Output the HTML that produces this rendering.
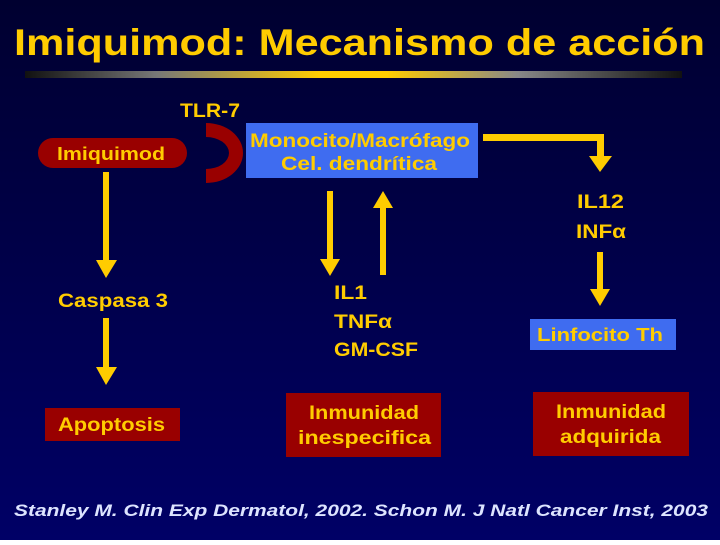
<!DOCTYPE html>
<html><head><meta charset="utf-8"><style>
html,body{margin:0;padding:0;}
body{width:720px;height:540px;overflow:hidden;}
text{font-family:"Liberation Sans",sans-serif;font-weight:bold;}
</style></head><body>
<svg width="720" height="540" viewBox="0 0 720 540" xmlns="http://www.w3.org/2000/svg">
<defs>
<linearGradient id="bg" x1="0" y1="0" x2="0" y2="1">
<stop offset="0" stop-color="#000030"/><stop offset="0.5" stop-color="#00004a"/><stop offset="1" stop-color="#000066"/>
</linearGradient>
<linearGradient id="bar" x1="0" y1="0" x2="1" y2="0">
<stop offset="0" stop-color="#111"/><stop offset="0.2" stop-color="#777"/><stop offset="0.45" stop-color="#ffcc00"/><stop offset="0.55" stop-color="#ffcc00"/><stop offset="0.75" stop-color="#888"/><stop offset="1" stop-color="#111"/>
</linearGradient>
</defs>
<rect width="720" height="540" fill="url(#bg)"/>
<text x="14" y="55" font-size="37" fill="#ffcc00" textLength="691" lengthAdjust="spacingAndGlyphs">Imiquimod: Mecanismo de acción</text>
<rect x="25" y="71" width="657" height="7" fill="url(#bar)"/>

<g fill="#ffcc00">
<rect x="483" y="134" width="121" height="7"/>
<rect x="597" y="134" width="7" height="24"/>
<polygon points="589,156 612,156 600,172"/>
<rect x="597" y="252" width="6" height="38"/>
<polygon points="590,289 610,289 600,306"/>
<rect x="103" y="172" width="6" height="90"/>
<polygon points="96,260 117,260 106,278"/>
<rect x="103" y="318" width="6" height="50"/>
<polygon points="96,367 117,367 106,385"/>
<rect x="327" y="191" width="6" height="70"/>
<polygon points="320,259 340,259 330,276"/>
<rect x="380" y="207" width="6" height="68"/>
<polygon points="373,208 393,208 383,191"/>
</g>

<rect x="38" y="138" width="149" height="30" rx="15" fill="#990000"/>
<text x="57" y="160" font-size="18" fill="#ffcc00" textLength="108" lengthAdjust="spacingAndGlyphs">Imiquimod</text>
<text x="180" y="117" font-size="19" fill="#ffcc00" textLength="60" lengthAdjust="spacingAndGlyphs">TLR-7</text>
<path d="M206,123 A37,30 0 0 1 206,183 L206,169 A23,16 0 0 0 206,137 Z" fill="#990000"/>
<rect x="246" y="123" width="232" height="55" fill="#3f6cf0"/>
<text x="250" y="147" font-size="19" fill="#ffcc00" textLength="220" lengthAdjust="spacingAndGlyphs">Monocito/Macrófago</text>
<text x="281" y="170" font-size="19" fill="#ffcc00" textLength="156" lengthAdjust="spacingAndGlyphs">Cel. dendrítica</text>

<text x="577" y="208" font-size="19" fill="#ffcc00" textLength="47" lengthAdjust="spacingAndGlyphs">IL12</text>
<text x="576" y="238" font-size="19" fill="#ffcc00" textLength="50" lengthAdjust="spacingAndGlyphs">INFα</text>

<text x="58" y="307" font-size="19" fill="#ffcc00" textLength="110" lengthAdjust="spacingAndGlyphs">Caspasa 3</text>

<text x="334" y="299" font-size="19" fill="#ffcc00" textLength="33" lengthAdjust="spacingAndGlyphs">IL1</text>
<text x="334" y="328" font-size="19" fill="#ffcc00" textLength="58" lengthAdjust="spacingAndGlyphs">TNFα</text>
<text x="334" y="356" font-size="19" fill="#ffcc00" textLength="84" lengthAdjust="spacingAndGlyphs">GM-CSF</text>

<rect x="530" y="319" width="146" height="31" fill="#3f6cf0"/>
<text x="537" y="341" font-size="18" fill="#ffcc00" textLength="126" lengthAdjust="spacingAndGlyphs">Linfocito Th</text>

<rect x="45" y="408" width="135" height="33" fill="#990000"/>
<text x="58" y="431" font-size="19" fill="#ffcc00" textLength="107" lengthAdjust="spacingAndGlyphs">Apoptosis</text>

<rect x="286" y="393" width="155" height="64" fill="#990000"/>
<text x="309" y="419" font-size="19" fill="#ffcc00" textLength="110" lengthAdjust="spacingAndGlyphs">Inmunidad</text>
<text x="298" y="444" font-size="19" fill="#ffcc00" textLength="133" lengthAdjust="spacingAndGlyphs">inespecifica</text>

<rect x="533" y="392" width="156" height="64" fill="#990000"/>
<text x="556" y="418" font-size="19" fill="#ffcc00" textLength="110" lengthAdjust="spacingAndGlyphs">Inmunidad</text>
<text x="560" y="443" font-size="19" fill="#ffcc00" textLength="101" lengthAdjust="spacingAndGlyphs">adquirida</text>

<text x="14" y="516" font-size="17" font-style="italic" fill="#dde4ff" textLength="694" lengthAdjust="spacingAndGlyphs">Stanley M. Clin Exp Dermatol, 2002. Schon M. J Natl Cancer Inst, 2003</text>
</svg>
</body></html>
